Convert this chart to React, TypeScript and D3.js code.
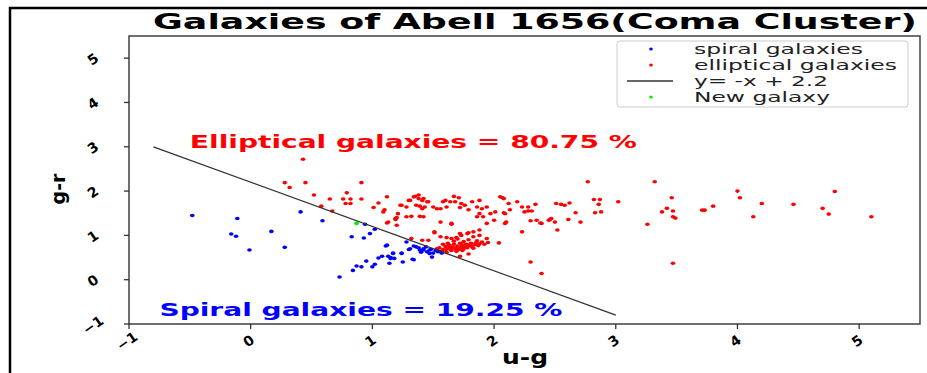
import * as d3 from 'd3';
import React from 'react';

// colour indices: [u-g, g-r]
const spiralGalaxies: [number, number][] = [
  [-0.48, 1.45], [-0.11, 1.38], [-0.16, 1.03], [-0.12, 0.98], [-0.01, 0.67], [0.17, 1.09],
  [0.28, 0.73], [0.41, 1.53], [0.59, 1.33], [0.83, 0.97], [0.93, 0.94], [0.94, 1.25],
  [0.98, 1.04], [1.02, 1.14], [1.11, 0.76], [0.73, 0.06], [0.84, 0.21], [0.87, 0.31],
  [0.91, 0.29], [0.95, 0.42], [1.0, 0.29], [1.02, 0.35], [1.05, 0.49], [1.08, 0.53],
  [1.13, 0.53], [1.15, 0.48], [1.17, 0.59], [1.18, 0.48], [1.24, 0.59], [1.25, 0.4],
  [1.14, 0.37], [1.3, 0.68], [1.36, 0.74], [1.42, 0.67], [1.47, 0.59], [1.33, 0.46],
  [1.28, 0.85], [1.49, 0.51], [1.12, 0.78], [1.17, 0.6], [1.15, 0.5], [1.24, 0.6],
  [1.31, 0.7], [1.34, 0.76], [1.39, 0.67], [1.42, 0.7], [1.45, 0.63], [1.47, 0.67],
  [1.5, 0.6], [1.54, 0.63], [1.34, 0.45], [1.57, 0.6], [1.38, 0.72], [1.44, 0.74],
  [1.52, 0.66], [1.55, 0.64], [1.4, 0.62], [1.48, 0.68],
];

const ellipticalGalaxies: [number, number][] = [
  [0.43, 2.72], [0.28, 2.19], [0.32, 2.08], [0.45, 2.19], [0.91, 2.19], [0.52, 1.91],
  [0.65, 1.82], [0.58, 1.66], [0.67, 1.55], [0.76, 1.82], [0.82, 1.82], [0.79, 1.96],
  [0.78, 1.72], [0.82, 1.72], [0.91, 1.82], [1.01, 1.63], [1.05, 1.73], [1.1, 1.58],
  [1.12, 1.87], [1.13, 1.3], [1.19, 1.36], [1.2, 1.4], [1.2, 1.23], [1.28, 1.42],
  [1.23, 1.68], [1.28, 1.64], [1.31, 1.79], [1.35, 1.88], [1.38, 1.83], [1.41, 1.79],
  [1.36, 1.68], [1.41, 1.6], [1.45, 1.76], [1.5, 1.64], [1.56, 1.6], [1.6, 1.79],
  [1.67, 1.88], [1.68, 1.76], [1.72, 1.63], [1.76, 1.68], [1.32, 1.43], [1.39, 1.43],
  [1.42, 1.42], [1.56, 1.3], [1.65, 1.25], [1.51, 1.06], [1.56, 0.97], [1.61, 0.95],
  [1.65, 0.93], [1.69, 0.95], [1.73, 1.0], [1.79, 1.06], [1.32, 0.93], [1.41, 0.89],
  [1.46, 0.89], [1.09, 1.53], [1.19, 1.38], [1.12, 1.28], [1.21, 1.49], [1.24, 1.68],
  [1.3, 1.79], [1.34, 1.87], [1.38, 1.91], [1.42, 1.83], [1.39, 1.66], [1.43, 1.64],
  [1.46, 1.76], [1.53, 1.6], [1.58, 1.76], [1.61, 1.64], [1.64, 1.76], [1.71, 1.85],
  [1.73, 1.72], [1.79, 1.58], [1.82, 1.76], [1.86, 1.64], [1.88, 1.79], [1.9, 1.6],
  [1.94, 1.64], [1.97, 1.49], [1.88, 1.49], [1.86, 1.42], [1.91, 1.42], [1.94, 1.27],
  [2.0, 1.34], [2.01, 1.53], [2.05, 1.87], [2.08, 1.83], [2.09, 1.49], [2.1, 1.3],
  [2.12, 1.72], [2.19, 1.76], [2.23, 1.64], [2.25, 1.53], [2.28, 1.64], [2.31, 1.55],
  [2.34, 1.7], [2.35, 1.34], [2.39, 1.27], [2.45, 1.34], [2.47, 1.38], [2.5, 1.3],
  [2.51, 1.72], [2.55, 1.7], [2.58, 1.68], [2.61, 1.36], [2.62, 1.73], [2.67, 1.51],
  [2.71, 1.3], [2.77, 2.21], [2.82, 1.81], [2.83, 1.51], [2.86, 1.7], [2.88, 1.53],
  [2.87, 1.81], [3.02, 1.76], [2.04, 0.83], [2.23, 1.08], [2.3, 0.4], [2.39, 0.14],
  [1.65, 1.27], [1.51, 1.08], [1.72, 1.04], [1.78, 1.04], [1.83, 1.08], [1.88, 1.12],
  [1.83, 0.97], [1.88, 1.0], [1.94, 0.93], [1.72, 0.53], [1.79, 0.58], [2.07, 1.85],
  [2.08, 1.51], [2.09, 1.27], [2.13, 1.58], [2.28, 1.55], [2.3, 1.33], [2.38, 1.28],
  [2.46, 1.36], [2.52, 1.12], [3.32, 2.21], [3.46, 1.85], [3.26, 1.25], [3.38, 1.53],
  [3.42, 1.61], [3.47, 1.55], [3.47, 1.42], [3.49, 1.39], [3.47, 0.37], [3.71, 1.57],
  [3.73, 1.57], [3.8, 1.66], [4.0, 2.0], [4.02, 1.85], [4.13, 1.42], [4.2, 1.72],
  [4.46, 1.7], [4.7, 1.61], [4.75, 1.48], [4.8, 1.99], [5.1, 1.42],
  [1.55, 0.72], [1.58, 0.68], [1.6, 0.75], [1.62, 0.7], [1.63, 0.78], [1.65, 0.66],
  [1.66, 0.73], [1.67, 0.8], [1.68, 0.7], [1.7, 0.76], [1.71, 0.68], [1.72, 0.82],
  [1.73, 0.73], [1.74, 0.78], [1.75, 0.7], [1.76, 0.75], [1.77, 0.8], [1.78, 0.72],
  [1.8, 0.77], [1.81, 0.82], [1.82, 0.74], [1.84, 0.79], [1.85, 0.83], [1.87, 0.77],
  [1.88, 0.81], [1.9, 0.85], [1.92, 0.8], [1.95, 0.84], [1.57, 0.64], [1.61, 0.62],
  [1.64, 0.69], [1.69, 0.64], [1.62, 0.82], [1.58, 0.8], [1.53, 0.7], [1.67, 0.87],
  [1.75, 0.86], [1.79, 0.9], [1.7, 0.92], [1.86, 0.88], [1.64, 0.74], [1.69, 0.72],
  [1.74, 0.66], [1.78, 0.79], [1.83, 0.71], [1.6, 0.67],
];

const newGalaxy: [number, number][] = [[0.87, 1.27]];

// dividing line y = -x + 2.2
const lineSlope = -1;
const lineIntercept = 2.2;
const lineRange = [-0.8, 3.0];

const xTicks = [-1, 0, 1, 2, 3, 4, 5];
const yTicks = [-1, 0, 1, 2, 3, 4, 5];
const legendLabels = ['spiral galaxies', 'elliptical galaxies', 'y= -x + 2.2', 'New galaxy'];
const titleText = 'Galaxies of Abell 1656(Coma Cluster)';
const ellipticalNote = 'Elliptical galaxies = 80.75 %';
const spiralNote = 'Spiral galaxies = 19.25 %';

const W = 927;
const H = 373;
const left = 129;
const right = 920;
const top = 36;
const bottom = 324;
const font = 'DejaVu Sans, sans-serif';

export default function App() {
  const x = d3.scaleLinear().domain([-1, 5.5]).range([left, right]);
  const y = d3.scaleLinear().domain([-1, 5.5]).range([bottom, top]);

  const linePath = d3.line<number>()
    .x((d) => x(d))
    .y((d) => y(lineSlope * d + lineIntercept))(lineRange);

  const legendY = [49, 65, 81, 97];
  const legendWidths = [169, 203, 134, 136];

  return (
    <div style={{ position: 'absolute', left: 0, top: 0 }}>
      <svg width={W} height={H} style={{ display: 'block', background: '#fff' }} fontFamily={font}>
        {/* figure frame */}
        <rect x={10} y={8} width={W + 20} height={H + 20} fill="none" stroke="#000" strokeWidth={2.5} />

        <text x={535} y={29} textAnchor="middle" fontSize={22} fontWeight="bold"
          textLength={764} lengthAdjust="spacingAndGlyphs">{titleText}</text>

        {/* points */}
        {ellipticalGalaxies.map((d, i) => (
          <ellipse key={'e' + i} cx={x(d[0])} cy={y(d[1])} rx={2.3} ry={1.8} fill="#ff0000" />
        ))}
        {spiralGalaxies.map((d, i) => (
          <ellipse key={'s' + i} cx={x(d[0])} cy={y(d[1])} rx={2.3} ry={1.8} fill="#0000ff" />
        ))}
        {newGalaxy.map((d, i) => (
          <ellipse key={'n' + i} cx={x(d[0])} cy={y(d[1])} rx={2.3} ry={1.8} fill="#00ee00" />
        ))}

        <path d={linePath || ''} fill="none" stroke="#333" strokeWidth={1.3} />

        {/* annotations */}
        <text x={x(-0.5)} y={y(3.12)} dy="0.35em" fill="#ff0000" fontSize={18} fontWeight="bold"
          textLength={447} lengthAdjust="spacingAndGlyphs">{ellipticalNote}</text>
        <text x={x(-0.75)} y={y(-0.67)} dy="0.35em" fill="#0000ff" fontSize={18} fontWeight="bold"
          textLength={403} lengthAdjust="spacingAndGlyphs">{spiralNote}</text>

        {/* axes box */}
        <rect x={left} y={top} width={right - left} height={bottom - top} fill="none" stroke="#333" strokeWidth={1.4} />

        {xTicks.map((t) => (
          <g key={'xt' + t} transform={`translate(${x(t)},${bottom})`}>
            <line y2={5} stroke="#333" strokeWidth={1.3} />
            <text transform="translate(-2,17) rotate(-35)" textAnchor="middle" dy="0.35em"
              fontSize={14} fontWeight="bold">{t < 0 ? '\u2212' + Math.abs(t) : t}</text>
          </g>
        ))}
        {yTicks.map((t) => (
          <g key={'yt' + t} transform={`translate(${left},${y(t)})`}>
            <line x2={-5} stroke="#333" strokeWidth={1.3} />
            <text transform="translate(-36,1) rotate(-35)" textAnchor="middle" dy="0.35em"
              fontSize={14} fontWeight="bold">{t < 0 ? '\u2212' + Math.abs(t) : t}</text>
          </g>
        ))}

        <text x={525} y={357} dy="0.35em" textAnchor="middle" fontSize={19} fontWeight="bold"
          textLength={46} lengthAdjust="spacingAndGlyphs">u-g</text>
        <text transform="translate(58,189) rotate(-90)" dy="0.35em" textAnchor="middle" fontSize={19}
          fontWeight="bold">g-r</text>

        {/* legend */}
        <rect x={617} y={41} width={291} height={66} rx={3} fill="#fff" fillOpacity={0.8}
          stroke="#ccc" strokeWidth={1} />
        {legendLabels.map((label, i) => (
          <g key={label}>
            {i === 2 ? (
              <line x1={627} x2={673} y1={legendY[i]} y2={legendY[i]} stroke="#333" strokeWidth={1.3} />
            ) : (
              <ellipse cx={651} cy={legendY[i]} rx={1.8} ry={1.5}
                fill={i === 0 ? '#0000ff' : i === 1 ? '#ff0000' : '#00ee00'} />
            )}
            <text x={694} y={legendY[i]} dy="0.35em" fontSize={14} fill="#222"
              textLength={legendWidths[i]} lengthAdjust="spacingAndGlyphs">{label}</text>
          </g>
        ))}
      </svg>
    </div>
  );
}
